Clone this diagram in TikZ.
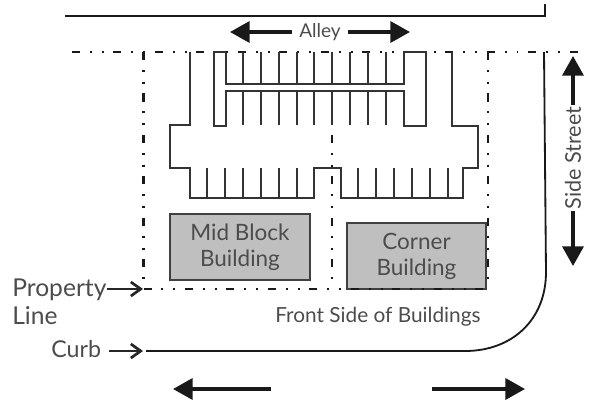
\documentclass[tikz,border=0pt]{standalone}
\usepackage{fontspec}
\setmainfont{Lato}
\usetikzlibrary{arrows.meta}

\tikzset{
	propline/.style={line width=1.6pt, black!90, dash pattern=on 5.7pt off 7pt on 1.4pt off 7pt on 1.4pt off 7pt},
	parkline/.style={line width=1.3pt, black!80, line join=miter},
	curbline/.style={line width=1.3pt, black!90},
	bigarrow/.style={line width=2.4pt, black!90, -{Triangle[length=14pt,width=15pt]}},
	thinarrow/.style={line width=1.4pt, black!85, -{Straight Barb[length=7pt,width=10pt,line width=1.9pt]}},
	building/.style={draw=black!75, line width=1.3pt, fill=black!25},
	lbl/.style={text=black!70, inner sep=0pt, font=\fontsize{16}{18.5}\selectfont},
	lblbig/.style={text=black!70, inner sep=0pt, font=\fontsize{17.5}{20}\selectfont},
	lblsmall/.style={text=black!70, inner sep=0pt, font=\fontsize{14.8}{17}\selectfont}
}

\begin{document}
\begin{tikzpicture}[x=0.025cm,y=-0.025cm]
	\useasboundingbox (0,0) rectangle (592,404);

	% Alley edge
	\draw[curbline] (65,16) -- (545,16) -- (545,4);

	% Property lines
	\draw[propline] (72,52) -- (587,52);
	\draw[propline] (143.5,52) -- (143.5,289);
	\draw[propline] (332,52) -- (332,289);

	% Parking lot outline
	\draw[parkline] (190,52) -- (190,125) -- (170,125) -- (170,168) -- (190,168) -- (190,198)
		-- (314,198) -- (314,168) -- (341,168) -- (341,198) -- (463,198) -- (463,168)
		-- (478,168) -- (478,126) -- (452,126) -- (452,52);

	% Centre island
	\draw[parkline] (226,52) -- (214,52) -- (214,126) -- (226,126) -- (226,91) -- (404,91)
		-- (404,126) -- (426,126) -- (426,52) -- (404,52) -- (404,84) -- (226,84) -- (226,52);

	% Stalls above the island
	\draw[parkline] (243,52) -- (243,84) (261,52) -- (261,84) (279,52) -- (279,84) (297,52) -- (297,84)
		(314,52) -- (314,84) (332,52) -- (332,84) (350,52) -- (350,84) (368,52) -- (368,84) (386,52) -- (386,84);

	% Stalls below the island
	\draw[parkline] (243,91) -- (243,125) (261,91) -- (261,125) (279,91) -- (279,125) (297,91) -- (297,125)
		(314,91) -- (314,125) (332,91) -- (332,125) (350,91) -- (350,125) (368,91) -- (368,125) (386,91) -- (386,125);

	% Stalls along the bottom row
	\draw[parkline] (207,168) -- (207,198) (225,168) -- (225,198) (243,168) -- (243,198)
		(261,168) -- (261,198) (279,168) -- (279,198) (297,168) -- (297,198);
	\draw[parkline] (358,168) -- (358,198) (376,168) -- (376,198) (394,168) -- (394,198)
		(412,168) -- (412,198) (430,168) -- (430,198) (448,168) -- (448,198);

	% Buildings
	\node[building, minimum width=3.5cm, minimum height=1.65cm, align=center, lbl, inner sep=0pt] (midblock) at (240,247) {Mid Block\\Building};
	\node[building, minimum width=3.475cm, minimum height=1.65cm, align=center, lbl, inner sep=0pt] (corner) at (416.5,256) {Corner\\Building};

	% Property lines that run over the corner building
	\draw[propline] (488,52) -- (488,289);
	\draw[propline] (143.5,289) -- (488,289);

	% Curb
	\coordinate (curbstart) at (146,351);
	\draw[curbline] (curbstart) -- (465,351) .. controls (512,351) and (546,320) .. (546,272) -- (544,52);

	% Alley label and arrows
	\node[lblsmall, inner sep=5pt, font=\fontsize{13.5}{16}\selectfont] (alley) at (320,32) {Alley};
	\coordinate (alleyleft) at (230,32);
	\coordinate (alleyright) at (410,32);
	\draw[bigarrow] (alley) -- (alleyleft);
	\draw[bigarrow] (alley) -- (alleyright);

	% Side street label and arrows
	\node[lbl, rotate=90, inner sep=1pt, font=\fontsize{15.4}{18}\selectfont] (sidestreet) at (573,158) {Side Street};
	\coordinate (sidetop) at (573,56);
	\coordinate (sidebottom) at (573,266);
	\draw[bigarrow] (sidestreet) -- (sidetop);
	\draw[bigarrow] (sidestreet) -- (sidebottom);

	% Traffic arrows along the front street
	\coordinate (trafficleftstart) at (271,389);
	\coordinate (trafficleftend) at (173,389);
	\coordinate (trafficrightstart) at (432,389);
	\coordinate (trafficrightend) at (525,389);
	\draw[bigarrow] (trafficleftstart) -- (trafficleftend);
	\draw[bigarrow] (trafficrightstart) -- (trafficrightend);

	% Labels on the left
	\coordinate (propertyend) at (143,289);
	\coordinate (curbend) at (143,351);
	\node[lblbig, anchor=base west] (property) at (12,296) {Property};
	\node[lblbig, anchor=base west] (linelbl) at (12,324) {Line};
	\node[lblbig, anchor=base west, font=\fontsize{16.5}{19}\selectfont] (curb) at (51,357) {Curb};
	\draw[thinarrow] (property.east |- propertyend) -- (propertyend);
	\draw[thinarrow] (curb.east |- curbend) ++(8,0) -- (curbend);

	% Front side label
	\node[lblsmall, anchor=base west] (frontside) at (275,322) {Front Side of Buildings};
\end{tikzpicture}
\end{document}
